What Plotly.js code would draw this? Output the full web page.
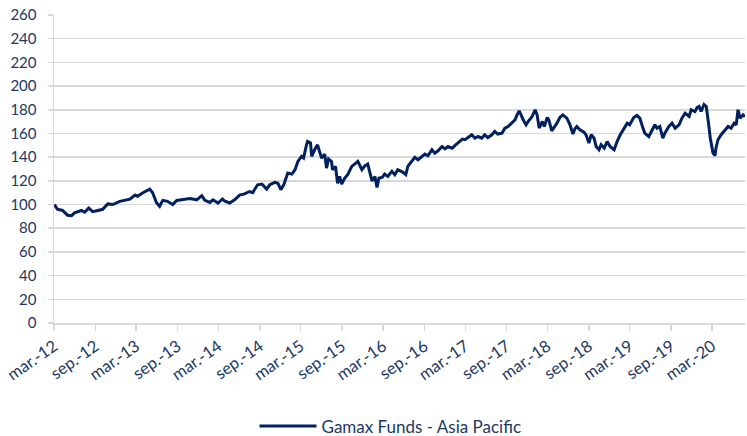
<!DOCTYPE html>
<html>
<head>
<meta charset="utf-8">
<script src="https://cdn.plot.ly/plotly-3.0.1.min.js"></script>
<style>
  html, body { margin: 0; padding: 0; background: #ffffff; }
  #chart { width: 747px; height: 436px; }
</style>
</head>
<body>
<div id="chart"></div>
<script>
// Series name
const seriesName = "Gamax Funds - Asia Pacific";

// Dates of the readings
const dates = [
  "2012-03-03","2012-03-16","2012-04-08","2012-04-30","2012-05-18","2012-05-31","2012-07-01","2012-07-15",
  "2012-08-02","2012-08-20","2012-09-12","2012-10-03","2012-10-26","2012-11-17","2012-12-18","2013-01-10",
  "2013-02-01","2013-02-24","2013-03-07","2013-03-29","2013-04-21","2013-04-30","2013-05-13","2013-05-30",
  "2013-06-13","2013-06-27","2013-07-18","2013-08-10","2013-08-28","2013-09-24","2013-10-25","2013-11-25",
  "2013-12-17","2013-12-31","2014-01-22","2014-02-05","2014-02-27","2014-03-19","2014-03-28","2014-04-20",
  "2014-05-12","2014-06-03","2014-06-25","2014-07-17","2014-07-31","2014-08-22","2014-09-10","2014-10-01",
  "2014-10-15","2014-11-07","2014-11-20","2014-12-03","2014-12-16","2015-01-03","2015-01-21","2015-02-04",
  "2015-02-17","2015-03-05","2015-03-14","2015-03-27","2015-04-01","2015-04-14","2015-04-19","2015-05-02",
  "2015-05-15","2015-05-24","2015-06-02","2015-06-16","2015-06-24","2015-07-03","2015-07-16","2015-07-21",
  "2015-08-03","2015-08-12","2015-08-21","2015-08-30","2015-09-13","2015-09-26","2015-10-14","2015-11-01",
  "2015-11-10","2015-11-28","2015-12-11","2015-12-24","2016-01-03","2016-01-12","2016-01-25","2016-02-03",
  "2016-02-12","2016-02-26","2016-03-08","2016-03-22","2016-04-09","2016-04-22","2016-05-05","2016-05-14",
  "2016-05-27","2016-06-10","2016-06-19","2016-07-06","2016-07-20","2016-08-03","2016-08-21","2016-09-03",
  "2016-09-16","2016-10-04","2016-10-17","2016-10-31","2016-11-18","2016-12-01","2016-12-14","2017-01-02",
  "2017-01-15","2017-01-29","2017-02-16","2017-02-28","2017-03-12","2017-03-30","2017-04-13","2017-04-26",
  "2017-05-13","2017-05-26","2017-06-09","2017-06-27","2017-07-10","2017-07-23","2017-08-11","2017-08-24",
  "2017-09-07","2017-09-25","2017-10-08","2017-10-17","2017-10-26","2017-11-04","2017-11-13","2017-11-26",
  "2017-12-05","2017-12-23","2018-01-05","2018-01-14","2018-01-23","2018-02-06","2018-02-15","2018-02-28",
  "2018-03-07","2018-03-20","2018-03-29","2018-04-12","2018-04-25","2018-05-08","2018-05-26","2018-06-09",
  "2018-06-22","2018-07-01","2018-07-09","2018-07-23","2018-08-10","2018-08-19","2018-09-01","2018-09-11",
  "2018-09-24","2018-10-03","2018-10-16","2018-10-25","2018-11-08","2018-11-21","2018-12-04","2018-12-22",
  "2019-01-04","2019-01-18","2019-02-05","2019-02-18","2019-03-01","2019-03-19","2019-04-02","2019-04-15",
  "2019-04-29","2019-05-07","2019-05-25","2019-06-08","2019-06-21","2019-06-30","2019-07-13","2019-07-26",
  "2019-08-04","2019-08-22","2019-09-05","2019-09-19","2019-10-06","2019-10-19","2019-11-02","2019-11-20",
  "2019-11-29","2019-12-16","2019-12-25","2020-01-03","2020-01-12","2020-01-25","2020-02-04","2020-02-13",
  "2020-02-22","2020-03-05","2020-03-14","2020-03-18","2020-03-27","2020-04-10","2020-04-28","2020-05-11",
  "2020-05-24","2020-06-07","2020-06-16","2020-06-24","2020-07-03","2020-07-16","2020-07-25"
];

// Index values
const values = [
  100, 96, 95, 91, 90.6, 93, 95, 93.5,
  97, 94, 95, 96, 100.5, 100, 102.7, 104,
  104.6, 108, 107, 109.7, 112, 113, 110, 101.5,
  98.5, 103.5, 102.7, 100, 103.5, 104, 105, 104,
  107.5, 103.5, 101.8, 104, 101.3, 104.7, 103, 101.3,
  104, 108, 109, 111, 110, 116.7, 117.3, 113,
  116.7, 118.7, 118, 112.5, 116.7, 126.6, 125.7, 129.4,
  136.4, 140.6, 139.2, 150.4, 153.2, 151.9, 140.6, 146.2,
  150.4, 144.8, 139.2, 142.6, 130.8, 138.4, 136.4, 129.4,
  132.2, 118, 123.7, 117.3, 122.3, 125.2, 132.2, 135,
  136.4, 129.4, 132.7, 134.2, 126.6, 120, 123.7, 114.5,
  122.4, 122.9, 125.7, 123.7, 128, 125.2, 129.4, 128.5,
  127.4, 125.2, 132.2, 136.4, 139.8, 137.8, 140.6, 142.6,
  141.2, 146.2, 143.4, 145.4, 149, 147, 149, 147.6,
  149.9, 151.9, 155.2, 154.7, 156.6, 158.9, 156, 157.4,
  156, 158.9, 156.6, 158.9, 161.7, 159.5, 160.3, 164.5,
  165.9, 168.7, 171.5, 175.7, 179.1, 175.7, 171.5, 167.3,
  170.1, 174.3, 180, 175.7, 164.5, 170.1, 165.9, 173.5,
  171.5, 162.2, 164.5, 168.7, 173.5, 175.7, 172.9, 167.3,
  159.5, 164, 165.9, 163.1, 161.1, 158.9, 151.9, 158.9,
  156, 149, 146.2, 150.4, 147.6, 153.2, 149, 146.2,
  153.2, 158.9, 164.5, 168.7, 167.3, 173.5, 175.2, 172.9,
  164.5, 160.3, 157.4, 163.1, 167.3, 164.5, 165.9, 156,
  160.3, 165.9, 168.7, 164.5, 167.3, 172.9, 177.1, 174.3,
  180, 178.5, 181.9, 182.8, 178.5, 184.5, 182.8, 170.1,
  156, 143.4, 141.4, 147.6, 154.7, 158.9, 163.1, 165.9,
  164.5, 168.7, 167.3, 180, 172.9, 175.7, 174.3
];

// Tick positions and labels
const tickDates = [
  "2012-03-01","2012-09-01","2013-03-01","2013-09-01","2014-03-01","2014-09-01",
  "2015-03-01","2015-09-01","2016-03-01","2016-09-01","2017-03-01","2017-09-01",
  "2018-03-01","2018-09-01","2019-03-01","2019-09-01","2020-03-01"
];
const tickLabels = [
  "mar.-12","sep.-12","mar.-13","sep.-13","mar.-14","sep.-14",
  "mar.-15","sep.-15","mar.-16","sep.-16","mar.-17","sep.-17",
  "mar.-18","sep.-18","mar.-19","sep.-19","mar.-20"
];
const xRange = ["2012-03-01", "2020-07-25"];
const yRange = [0, 260];

const textColor = "#203864";
const gridColor = "#d9d9d9";

const trace = {
  x: dates,
  y: values,
  type: "scatter",
  mode: "lines",
  name: seriesName,
  line: { color: "#002060", width: 3 },
  showlegend: true
};

const layout = {
  width: 747,
  height: 436,
  margin: { l: 54, r: 2, t: 15, b: 112.5, pad: 0, autoexpand: false },
  paper_bgcolor: "#ffffff",
  plot_bgcolor: "#ffffff",
  font: { family: "Lato, 'Open Sans', sans-serif", size: 15, color: textColor },
  showlegend: true,
  xaxis: {
    type: "date",
    range: xRange,
    tickmode: "array",
    tickvals: tickDates,
    ticktext: tickLabels,
    tickangle: -35,
    ticks: "outside",
    ticklen: 6,
    tickwidth: 1.5,
    tickcolor: gridColor,
    showgrid: false,
    showline: true,
    linecolor: gridColor,
    linewidth: 1.5,
    zeroline: false,
    automargin: false,
    tickfont: { family: "Lato, sans-serif", size: 16.5, color: textColor },
    fixedrange: true
  },
  yaxis: {
    range: yRange,
    dtick: 20,
    tick0: 0,
    ticks: "outside",
    ticklen: 5,
    tickwidth: 1.5,
    tickcolor: gridColor,
    showgrid: true,
    gridcolor: gridColor,
    gridwidth: 1.5,
    showline: true,
    linecolor: gridColor,
    linewidth: 1.5,
    zeroline: false,
    automargin: false,
    ticklabelstandoff: 8,
    tickfont: { family: "Lato, sans-serif", size: 15, color: textColor },
    fixedrange: true
  },
  legend: {
    orientation: "h",
    x: 0.487,
    xanchor: "center",
    y: -0.3355,
    yanchor: "middle",
    itemwidth: 57,
    font: { family: "Lato, sans-serif", size: 17, color: textColor },
    bgcolor: "rgba(0,0,0,0)"
  }
};

Plotly.newPlot("chart", [trace], layout, { displayModeBar: false, staticPlot: true });
</script>
</body>
</html>
